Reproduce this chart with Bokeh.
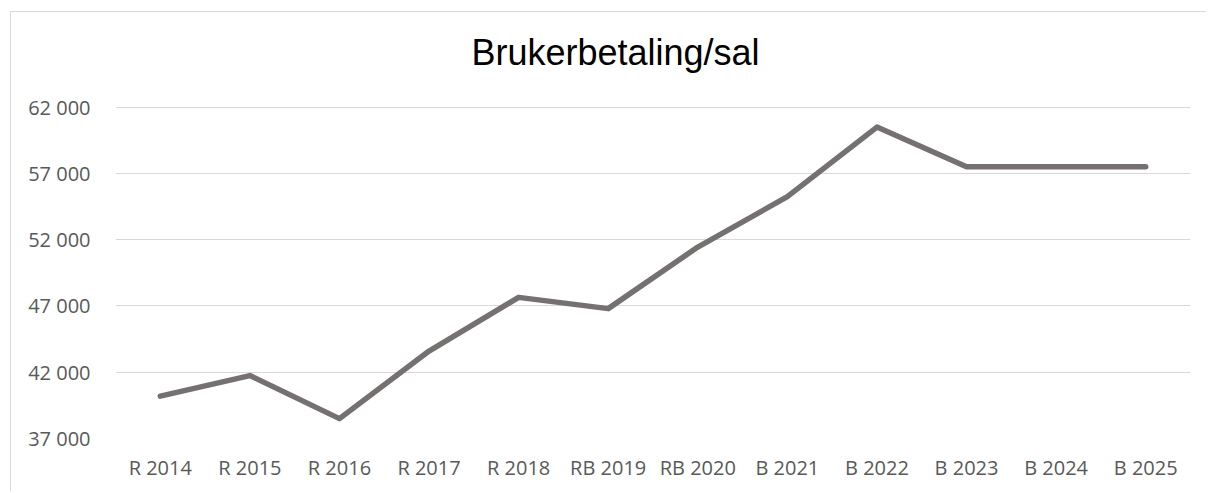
from bokeh.plotting import figure
from bokeh.models import ColumnDataSource, FixedTicker, CustomJSTickFormatter, Range1d, FactorRange, Label
from bokeh.embed import file_html
from bokeh.resources import INLINE

categories = ["R 2014", "R 2015", "R 2016", "R 2017", "R 2018", "RB 2019",
              "RB 2020", "B 2021", "B 2022", "B 2023", "B 2024", "B 2025"]
values = [40200, 41750, 38500, 43600, 47650, 46800,
          51450, 55250, 60500, 57500, 57500, 57500]
y_ticks = [37000, 42000, 47000, 52000, 57000, 62000]
title_text = "Brukerbetaling/sal"

src = ColumnDataSource(data=dict(cat=categories, val=values))

# frame extends above the top tick to leave room for the title inside the frame
p = figure(x_range=FactorRange(*categories, range_padding=0),
           y_range=Range1d(37000, 67790),
           width=1196, height=480,
           output_backend="svg", toolbar_location=None,
           min_border_left=104, min_border_right=17,
           min_border_top=18, min_border_bottom=54)
p.styles = {"border-left": "1px solid #d9d9d9", "border-top": "1px solid #d9d9d9",
            "margin-left": "10px", "margin-top": "11px"}

title = Label(x=500, y=386, x_units="screen", y_units="screen", text=title_text,
              text_align="center", text_baseline="alphabetic",
              text_font="Liberation Sans", text_font_size="36px", text_color="#000000")
p.add_layout(title)

p.line(x="cat", y="val", source=src, line_color="#767171", line_width=5.5,
       line_cap="round", line_join="round")

p.outline_line_color = None
p.background_fill_color = "white"
p.border_fill_color = "white"

p.xgrid.grid_line_color = None
p.ygrid.grid_line_color = "#d9d9d9"
p.ygrid.grid_line_width = 1

p.yaxis.ticker = FixedTicker(ticks=y_ticks)
p.yaxis.formatter = CustomJSTickFormatter(code="return Math.round(tick).toString().replace(/\\B(?=(\\d{3})+(?!\\d))/g, ' ');")
for ax in (p.xaxis, p.yaxis):
    ax.axis_line_color = None
    ax.major_tick_line_color = None
    ax.minor_tick_line_color = None
    ax.major_label_text_font = "Open Sans"
    ax.major_label_text_font_size = "20px"
    ax.major_label_text_color = "#595959"
p.yaxis.major_label_standoff = 19
p.xaxis.major_label_standoff = 9

open("out.html", "w").write(file_html(p, INLINE))
